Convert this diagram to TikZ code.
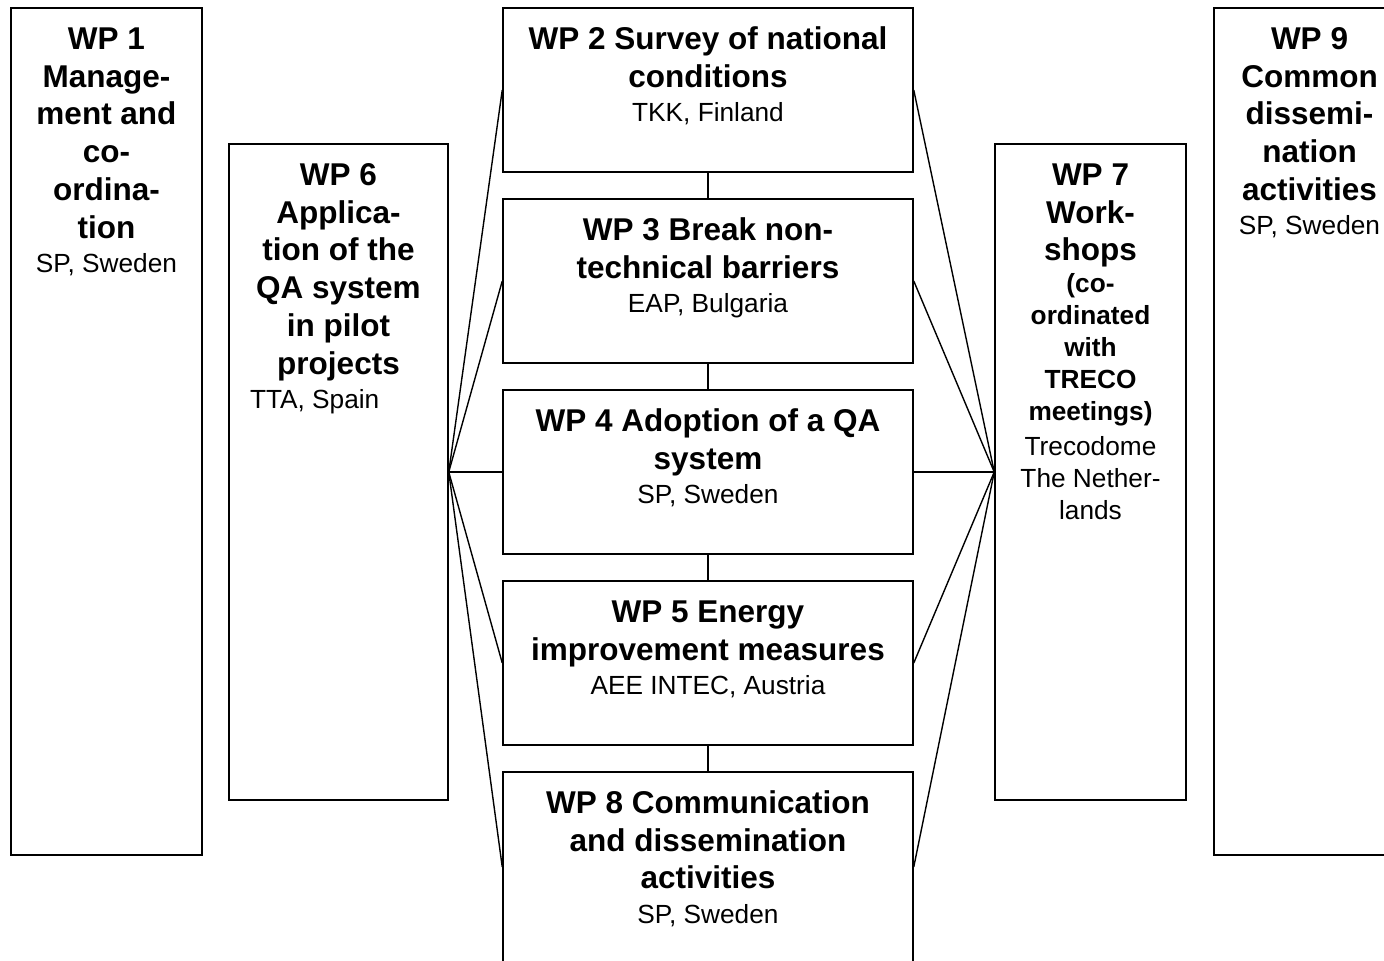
\documentclass[tikz,border=0pt]{standalone}
\usepackage{fontspec}
\setmainfont{Liberation Sans}
\usepackage{tikz}
\usetikzlibrary{positioning}

\newcommand{\wphead}[1]{{\fontsize{31.5}{37.8}\selectfont\bfseries\spaceskip=0.278em plus 0.1em\relax #1\par}}
\newcommand{\wpsub}[1]{{\fontsize{26.25}{32}\selectfont\bfseries\spaceskip=0.278em plus 0.1em\relax #1\par}}
\newcommand{\wpwho}[1]{\vspace{2.5pt}{\fontsize{26.25}{32}\selectfont\spaceskip=0.278em plus 0.1em\relax #1\par}}

\begin{document}
\begin{tikzpicture}[x=1pt, y=-1pt, node distance=25.5pt,
  wpbox/.style={rectangle, draw=black, line width=1.5pt, inner sep=0pt},
  wptext/.style={anchor=base, inner sep=0pt, outer sep=0pt},
  link/.style={draw=black, line width=1.4pt}]
\useasboundingbox (0,0) rectangle (1384,961);
\clip (0,0) rectangle (1384,961);
% side columns
\node[wpbox, minimum width=191pt, minimum height=847pt] (wp1) at (106.5,431.5) {};
\node[wpbox, minimum width=219pt, minimum height=656pt] (wp6) at (338.5,472) {};
\node[wpbox, minimum width=191pt, minimum height=656pt] (wp7) at (1090.5,472) {};
\node[wpbox, minimum width=191pt, minimum height=847pt] (wp9) at (1309.5,431.5) {};
% middle column
\node[wpbox, minimum width=410pt, minimum height=164pt] (wp2) at (708,90) {};
\node[wpbox, minimum width=410pt, minimum height=164pt, below=of wp2] (wp3) {};
\node[wpbox, minimum width=410pt, minimum height=164pt, below=of wp3] (wp4) {};
\node[wpbox, minimum width=410pt, minimum height=164pt, below=of wp4] (wp5) {};
\node[wpbox, minimum width=410pt, minimum height=190pt, below=of wp5] (wp8) {};
% texts
\node[wptext, text width=181pt] (wp1txt) at ([yshift=-42pt]wp1.north) {\centering
  \wphead{WP 1\\Manage-\\ment and\\co-\\ordina-\\tion}\wpwho{SP, Sweden}};
\node[wptext, text width=177pt] (wp6txt) at ([yshift=-42pt]wp6.north) {\centering
  \wphead{WP 6\\Applica-\\tion of the\\QA system\\in pilot\\projects}{\raggedright\wpwho{TTA, Spain}}};
\node[wptext, text width=400pt] (wp2txt) at ([yshift=-42pt]wp2.north) {\centering
  \wphead{WP 2 Survey of national\\conditions}\wpwho{TKK, Finland}};
\node[wptext, text width=400pt] (wp3txt) at ([yshift=-42pt]wp3.north) {\centering
  \wphead{WP 3 Break non-\\technical barriers}\wpwho{EAP, Bulgaria}};
\node[wptext, text width=400pt] (wp4txt) at ([yshift=-42pt]wp4.north) {\centering
  \wphead{WP 4 Adoption of a QA\\system}\wpwho{SP, Sweden}};
\node[wptext, text width=400pt] (wp5txt) at ([yshift=-42pt]wp5.north) {\centering
  \wphead{WP 5 Energy\\improvement measures}\wpwho{AEE INTEC, Austria}};
\node[wptext, text width=400pt] (wp8txt) at ([yshift=-42pt]wp8.north) {\centering
  \wphead{WP 8 Communication\\and dissemination\\activities}\wpwho{SP, Sweden}};
\node[wptext, text width=181pt] (wp7txt) at ([yshift=-42pt]wp7.north) {\centering
  \wphead{WP 7\\Work-\\shops}\wpsub{(co-\\ordinated\\with\\TRECO\\meetings)}\wpwho{Trecodome\\The Nether-\\lands}};
\node[wptext, text width=181pt] (wp9txt) at ([yshift=-42pt]wp9.north) {\centering
  \wphead{WP 9\\Common\\dissemi-\\nation\\activities}\wpwho{SP, Sweden}};
% chain in the middle
\draw[link] (wp2) -- (wp3);
\draw[link] (wp3) -- (wp4);
\draw[link] (wp4) -- (wp5);
\draw[link] (wp5) -- (wp8);
% fan from WP 6
\draw[link] (wp6.east) -- (wp2.west);
\draw[link] (wp6.east) -- (wp3.west);
\draw[link] (wp6.east) -- (wp4.west);
\draw[link] (wp6.east) -- (wp5.west);
\draw[link] (wp6.east) -- (wp8.west);
% fan into WP 7
\draw[link] (wp7.west) -- (wp2.east);
\draw[link] (wp7.west) -- (wp3.east);
\draw[link] (wp7.west) -- (wp4.east);
\draw[link] (wp7.west) -- (wp5.east);
\draw[link] (wp7.west) -- (wp8.east);
\end{tikzpicture}
\end{document}
